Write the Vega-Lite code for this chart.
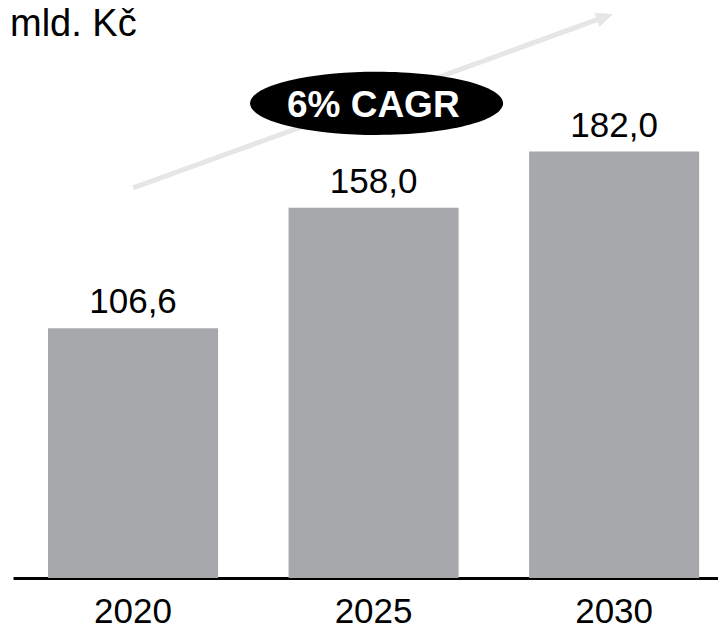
{
  "$schema": "https://vega.github.io/schema/vega-lite/v6.json",
  "width": 705,
  "height": 578,
  "autosize": "none",
  "padding": {"left": 13, "top": 0, "right": 0, "bottom": 52},
  "config": {"view": {"stroke": null}, "font": "Liberation Sans"},
  "datasets": {
    "bars": [
      {"year": "2020", "value": 106.6, "label": "106,6"},
      {"year": "2025", "value": 158.0, "label": "158,0"},
      {"year": "2030", "value": 182.0, "label": "182,0"}
    ],
    "arrow": [{"x": 0.511, "y": 166.5, "x2": 2.489, "y2": 238.4}],
    "head": [{"x": 2.553, "y": 240.7}],
    "badge": [{"x": 1.547, "y": 202.6, "tx": 1.533, "ty": 196.8, "text": "6% CAGR"}],
    "unit": [{"x": -0.0128, "y": 231.3, "text": "mld. Kč"}]
  },
  "layer": [
    {
      "data": {"name": "bars"},
      "encoding": {
        "x": {
          "field": "year", "type": "nominal", "sort": null,
          "scale": {"paddingInner": 0.293, "paddingOuter": 0.112, "align": 0.65},
          "axis": {
            "title": null, "labelAngle": 0, "labelFontSize": 35, "labelColor": "#000000",
            "labelFont": "Liberation Sans", "ticks": false, "tickSize": 0, "labelPadding": 16,
            "domainColor": "#000000", "domainWidth": 3, "grid": false
          }
        },
        "y": {
          "field": "value", "type": "quantitative",
          "scale": {"domain": [0, 246.7], "nice": false, "zero": true},
          "axis": null
        }
      },
      "layer": [
        {"mark": {"type": "bar", "color": "#A7A8AC"}},
        {
          "mark": {"type": "text", "fontSize": 35, "color": "#000000", "baseline": "alphabetic", "dy": -15},
          "encoding": {"text": {"field": "label"}}
        }
      ]
    },
    {
      "layer": [
        {
          "data": {"name": "arrow"},
          "mark": {"type": "rule", "color": "#E6E6E6", "strokeWidth": 5},
          "encoding": {
            "x": {"field": "x", "type": "quantitative", "scale": {"domain": [0, 3], "nice": false, "zero": false}, "axis": null},
            "x2": {"field": "x2"},
            "y": {"field": "y", "type": "quantitative", "scale": {"domain": [0, 246.7], "nice": false}, "axis": null},
            "y2": {"field": "y2"}
          }
        },
        {
          "data": {"name": "head"},
          "mark": {"type": "point", "shape": "M0,0L-2,-0.9L-2,0.9Z", "filled": true, "color": "#E6E6E6", "opacity": 1, "size": 289, "angle": -19.9},
          "encoding": {
            "x": {"field": "x", "type": "quantitative", "scale": {"domain": [0, 3], "nice": false, "zero": false}, "axis": null},
            "y": {"field": "y", "type": "quantitative", "scale": {"domain": [0, 246.7], "nice": false}, "axis": null}
          }
        },
        {
          "data": {"name": "badge"},
          "mark": {"type": "point", "shape": "M-1,0C-1,-0.138,-0.5523,-0.25,0,-0.25C0.5523,-0.25,1,-0.138,1,0C1,0.138,0.5523,0.25,0,0.25C-0.5523,0.25,-1,0.138,-1,0Z", "filled": true, "color": "#000000", "opacity": 1, "size": 64009},
          "encoding": {
            "x": {"field": "x", "type": "quantitative", "scale": {"domain": [0, 3], "nice": false, "zero": false}, "axis": null},
            "y": {"field": "y", "type": "quantitative", "scale": {"domain": [0, 246.7], "nice": false}, "axis": null}
          }
        },
        {
          "data": {"name": "badge"},
          "mark": {"type": "text", "fontSize": 37, "fontWeight": "bold", "color": "#FFFFFF", "align": "center", "baseline": "alphabetic"},
          "encoding": {
            "x": {"field": "tx", "type": "quantitative", "scale": {"domain": [0, 3], "nice": false, "zero": false}, "axis": null},
            "y": {"field": "ty", "type": "quantitative", "scale": {"domain": [0, 246.7], "nice": false}, "axis": null},
            "text": {"field": "text"}
          }
        },
        {
          "data": {"name": "unit"},
          "mark": {"type": "text", "fontSize": 38, "color": "#000000", "align": "left", "baseline": "alphabetic"},
          "encoding": {
            "x": {"field": "x", "type": "quantitative", "scale": {"domain": [0, 3], "nice": false, "zero": false}, "axis": null},
            "y": {"field": "y", "type": "quantitative", "scale": {"domain": [0, 246.7], "nice": false}, "axis": null},
            "text": {"field": "text"}
          }
        }
      ]
    }
  ],
  "resolve": {"scale": {"x": "independent"}}
}
